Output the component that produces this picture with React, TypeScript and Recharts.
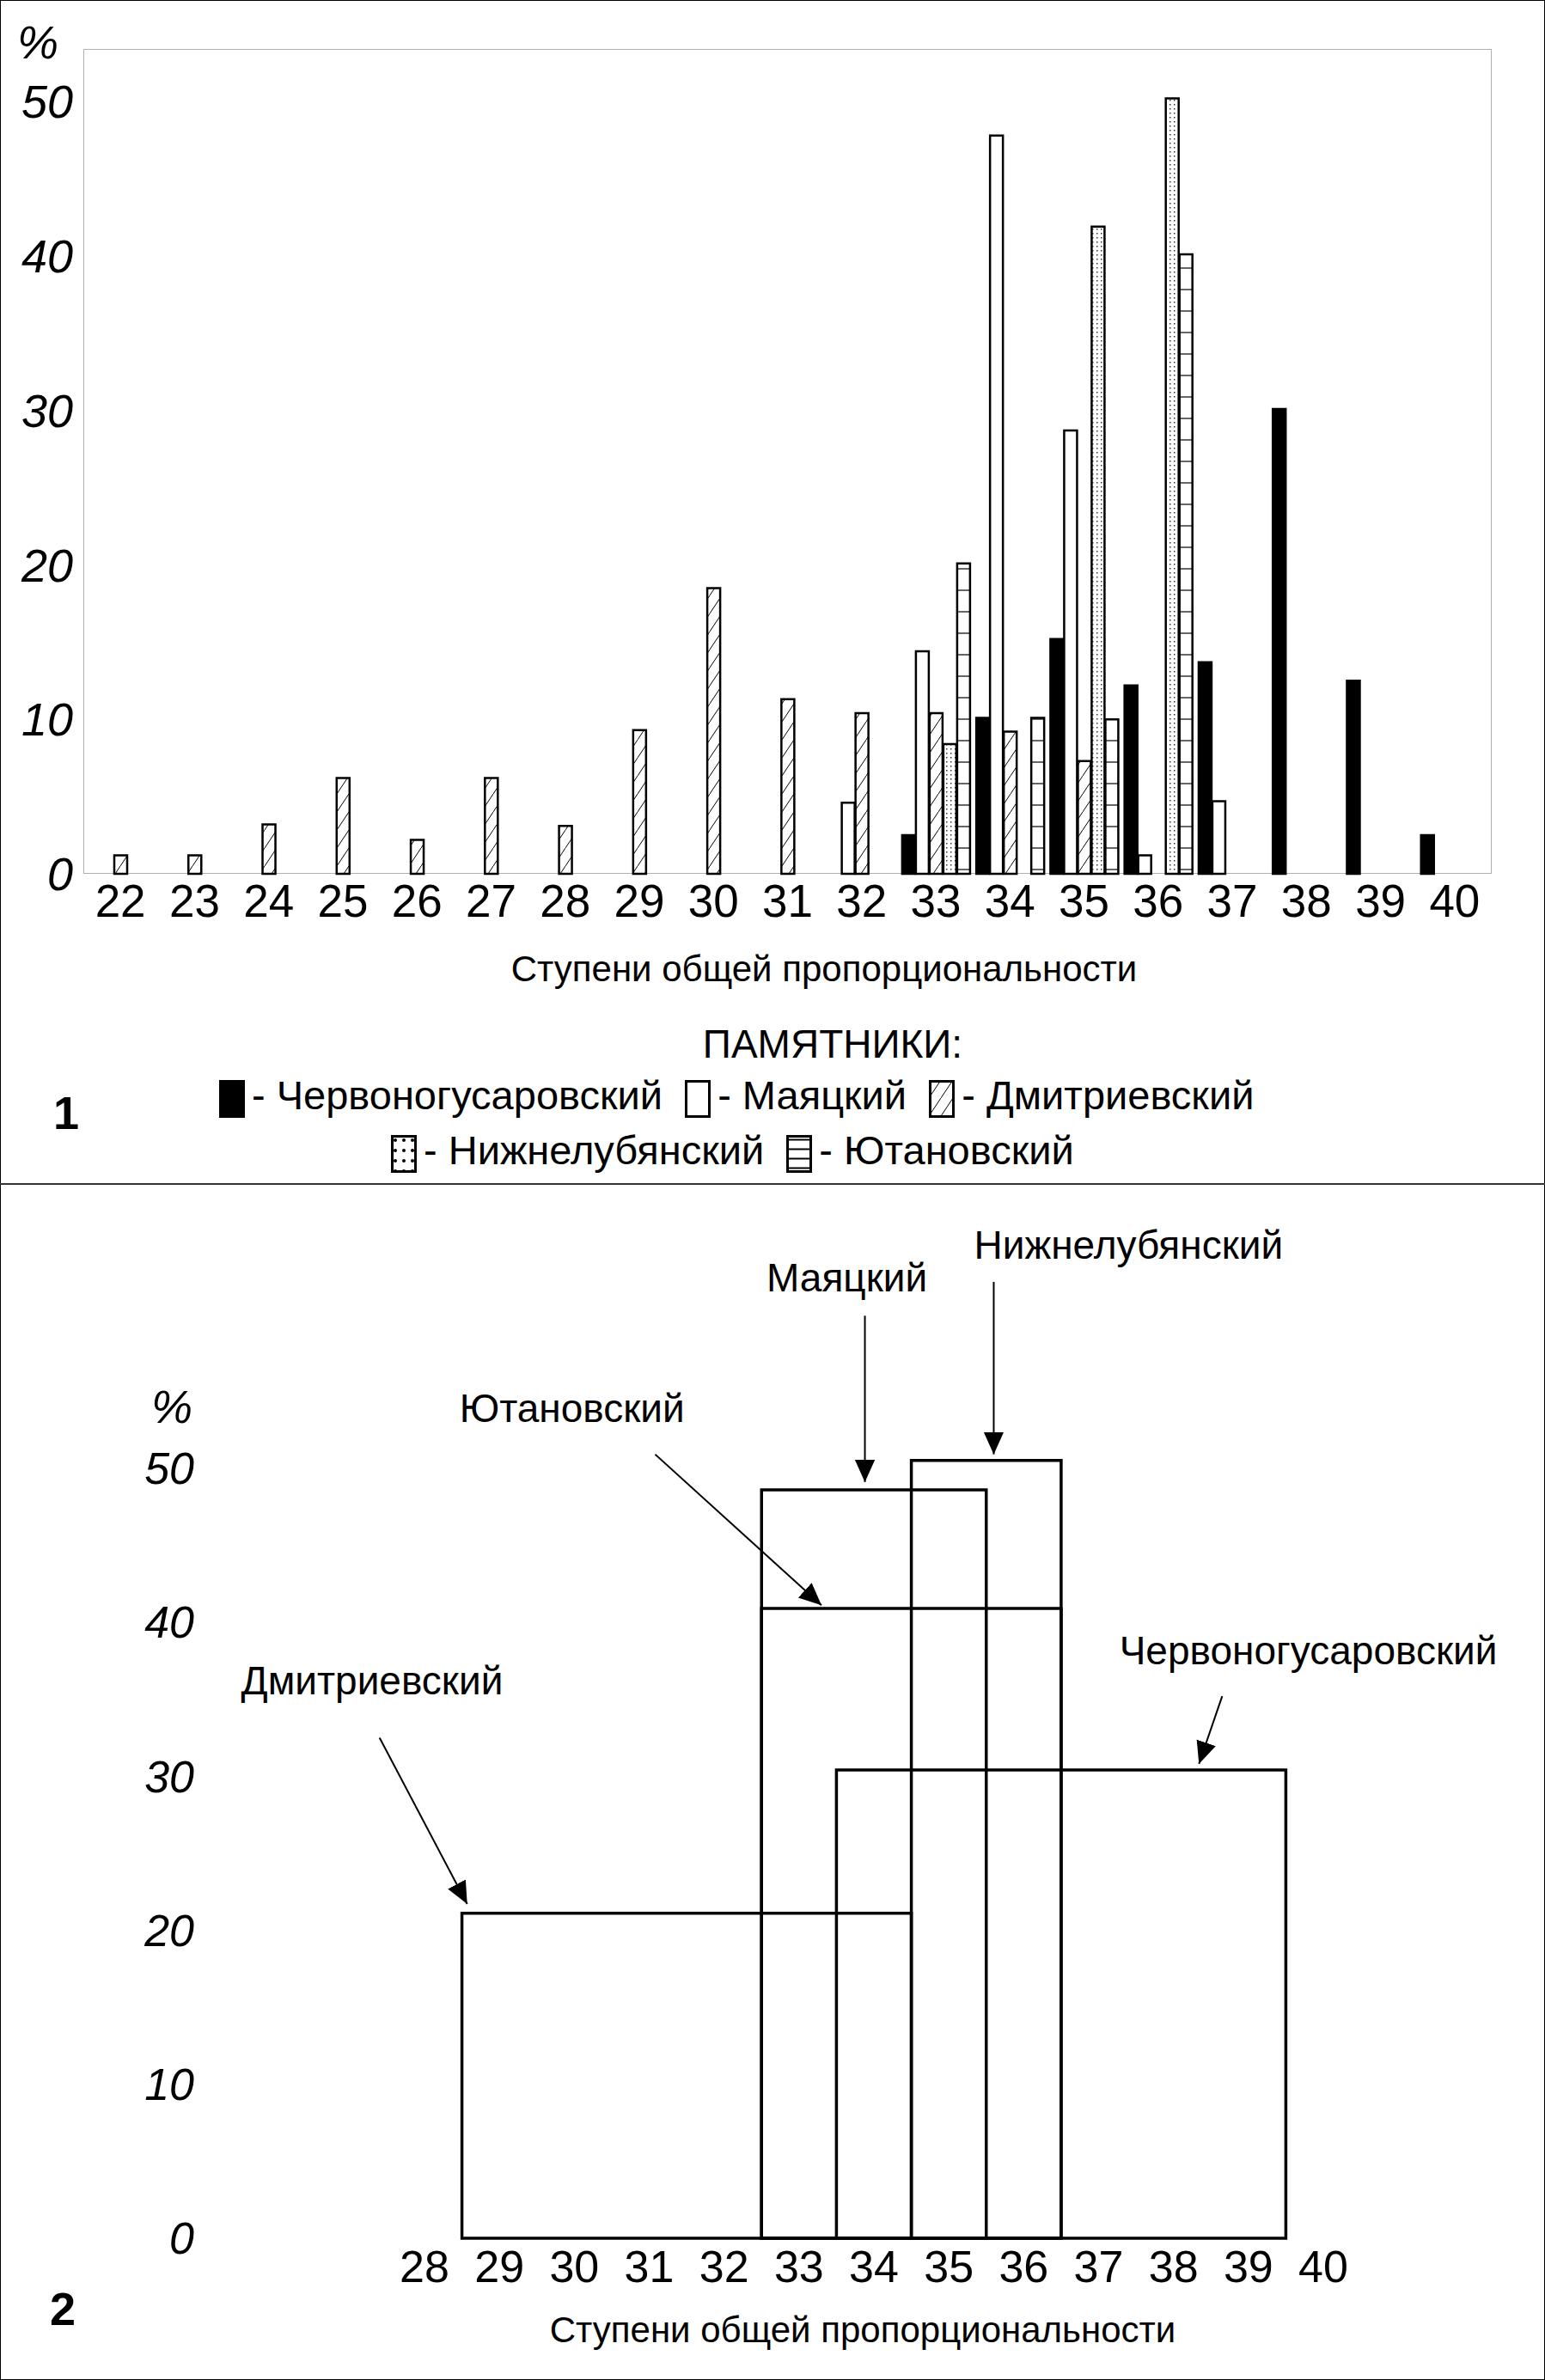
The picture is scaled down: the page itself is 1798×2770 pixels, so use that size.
import React from 'react';
import { BarChart, Bar, XAxis, YAxis, ComposedChart, Line, ReferenceArea, ReferenceLine, ReferenceDot } from 'recharts';

const steps = ['22','23','24','25','26','27','28','29','30','31','32','33','34','35','36','37','38','39','40'];
const chervonogusarovsky = [null,null,null,null,null,null,null,null,null,null,null,2.5,10.1,15.2,12.2,13.7,30.1,12.5,2.5];
const mayatsky = [null,null,null,null,null,null,null,null,null,null,4.6,14.4,47.8,28.7,1.2,4.7,null,null,null];
const dmitrievsky = [1.2,1.2,3.2,6.2,2.2,6.2,3.1,9.3,18.5,11.3,10.4,10.4,9.2,7.3,null,null,null,null,null];
const nizhnelubyansky = [null,null,null,null,null,null,null,null,null,null,null,8.4,null,41.9,50.2,null,null,null,null];
const yutanovsky = [null,null,null,null,null,null,null,null,null,null,null,20.1,10.1,10.0,40.1,null,null,null,null];

const yTicks = [0, 10, 20, 30, 40, 50];

// Panel 2: ranges of steps per monument and peak percent
const rangeNames = ['Дмитриевский', 'Маяцкий', 'Ютановский', 'Нижнелубянский', 'Червоногусаровский'];
const rangeFrom = [28.5, 32.5, 32.5, 34.5, 33.5];
const rangeTo = [34.5, 35.5, 36.5, 36.5, 39.5];
const rangePeak = [21.1, 48.6, 40.9, 50.5, 30.4];
// annotation: label position, arrow start, arrow end (data units)
const labelX = [27.3, 33.64, 29.97, 37.4, 39.8];
const labelY = [36.2, 62.4, 53.9, 64.5, 38.2];
const arrowFromX = [27.4, 33.88, 31.08, 35.6, 38.65];
const arrowFromY = [32.5, 59.9, 50.9, 62.1, 35.2];
const arrowToX = [28.57, 33.88, 33.3, 35.6, 38.34];
const arrowToY = [21.7, 49.1, 41.1, 50.9, 30.8];
const steps2 = [28, 29, 30, 31, 32, 33, 34, 35, 36, 37, 38, 39, 40];

const data1 = steps.map((s, i) => ({
  s,
  ch: chervonogusarovsky[i],
  ma: mayatsky[i],
  dm: dmitrievsky[i],
  ni: nizhnelubyansky[i],
  yu: yutanovsky[i],
}));
const data2 = [{ x: 28, y: 0 }, { x: 40, y: 0 }];

const FONT = "'Liberation Sans', Arial, sans-serif";

const Swatch = ({ fill }: { fill: string }) => (
  <svg width={30} height={44} style={{ verticalAlign: 'middle', marginRight: 8 }}>
    <rect x={1.5} y={1.5} width={27} height={41} fill={fill} stroke="#000" strokeWidth={3} />
  </svg>
);

export default function App() {
  const bs = { stroke: '#000', strokeWidth: 2.5, isAnimationActive: false, barSize: 15 } as any;
  return (
    <div style={{ position: 'absolute', left: 0, top: 0, width: 1798, height: 2770, background: '#fff', fontFamily: FONT }}>
      <svg width={0} height={0} style={{ position: 'absolute' }}>
        <defs>
          <pattern id="hatch" width={14} height={21} patternUnits="userSpaceOnUse">
            <rect width={14} height={21} fill="#fff" />
            <line x1={0} y1={21} x2={14} y2={0} stroke="#000" strokeWidth={1} />
          </pattern>
          <pattern id="dots" width={5} height={5} patternUnits="userSpaceOnUse">
            <rect width={5} height={5} fill="#fff" />
            <rect x={1} y={1} width={1.5} height={1.5} fill="#333" />
          </pattern>
          <pattern id="hlines" width={20} height={25} patternUnits="userSpaceOnUse">
            <rect width={20} height={25} fill="#fff" />
            <line x1={0} y1={12} x2={20} y2={12} stroke="#000" strokeWidth={1.2} />
          </pattern>
          <pattern id="ldots" width={10} height={12} patternUnits="userSpaceOnUse">
            <rect width={10} height={12} fill="#fff" />
            <circle cx={5} cy={6} r={2} fill="#000" />
          </pattern>
          <pattern id="lhlines" width={26} height={11} patternUnits="userSpaceOnUse">
            <rect width={26} height={11} fill="#fff" />
            <line x1={0} y1={5.5} x2={26} y2={5.5} stroke="#000" strokeWidth={2} />
          </pattern>
          <marker id="arrow2" viewBox="0 0 10 10" refX={10} refY={5} markerWidth={26} markerHeight={26} markerUnits="userSpaceOnUse" orient="auto">
            <path d="M0,0.5 L10,5 L0,9.5 z" fill="#000" />
          </marker>
        </defs>
      </svg>

      {/* outer frame and separator */}
      <div style={{ position: 'absolute', left: 0, top: 0, width: 1796, height: 2768, border: '1px solid #000' }} />
      <div style={{ position: 'absolute', left: 0, top: 1377, width: 1798, height: 0, borderTop: '2px solid #333' }} />

      {/* Panel 1 */}
      <div style={{ position: 'absolute', left: 97, top: 57, width: 1639, height: 960, border: '1px solid #a9b3b3', boxSizing: 'border-box' }} />
      <div style={{ position: 'absolute', left: 0, top: 0 }}>
        <BarChart width={1798} height={1100} data={data1} margin={{ top: 57, right: 62, bottom: 23, left: 7 }} barGap={1} barCategoryGap={6}>
          <XAxis dataKey="s" axisLine={false} tickLine={false} height={60} interval={0}
            tick={{ fontSize: 53, fill: '#000', fontFamily: FONT }} tickMargin={6} />
          <YAxis domain={[0, 53.4]} ticks={yTicks} axisLine={false} tickLine={false} width={90}
            tick={{ fontSize: 54, fill: '#000', fontStyle: 'italic', fontFamily: FONT }} tickMargin={6} />
          <Bar dataKey="ch" fill="#000" {...bs} />
          <Bar dataKey="ma" fill="#fff" {...bs} />
          <Bar dataKey="dm" fill="url(#hatch)" {...bs} />
          <Bar dataKey="ni" fill="url(#dots)" {...bs} />
          <Bar dataKey="yu" fill="url(#hlines)" {...bs} />
        </BarChart>
      </div>
      <div style={{ position: 'absolute', left: 20, top: 18, fontSize: 54, fontStyle: 'italic' }}>%</div>
      <div style={{ position: 'absolute', left: 0, width: 1798, top: 1104, textAlign: 'center', fontSize: 42, paddingLeft: 120, boxSizing: 'border-box' }}>
        Ступени общей пропорциональности
      </div>
      <div style={{ position: 'absolute', left: 0, width: 1798, top: 1188, textAlign: 'center', fontSize: 46, paddingLeft: 140, boxSizing: 'border-box' }}>
        ПАМЯТНИКИ:
      </div>
      <div style={{ position: 'absolute', left: 255, top: 1247, fontSize: 47, whiteSpace: 'nowrap' }}>
        <Swatch fill="#000" />- Червоногусаровский&nbsp;&nbsp;<Swatch fill="#fff" />- Маяцкий&nbsp;&nbsp;<Swatch fill="url(#hatch)" />- Дмитриевский
      </div>
      <div style={{ position: 'absolute', left: 455, top: 1311, fontSize: 47, whiteSpace: 'nowrap' }}>
        <Swatch fill="url(#ldots)" />- Нижнелубянский&nbsp;&nbsp;<Swatch fill="url(#lhlines)" />- Ютановский
      </div>
      <div style={{ position: 'absolute', left: 62, top: 1264, fontSize: 54, fontWeight: 'bold' }}>1</div>

      {/* Panel 2 */}
      <div style={{ position: 'absolute', left: 0, top: 1380 }}>
        <ComposedChart width={1798} height={1390} data={data2} margin={{ top: 42, right: 258, bottom: 115, left: 180 }}>
          <XAxis dataKey="x" type="number" domain={[28, 40]} ticks={steps2} interval={0} axisLine={false} tickLine={false} height={50}
            tick={{ fontSize: 52, fill: '#000', fontFamily: FONT }} tickMargin={8} allowDataOverflow />
          <YAxis type="number" domain={[0, 66]} ticks={yTicks} axisLine={false} tickLine={false} width={314} allowDataOverflow
            tick={{ fontSize: 52, fill: '#000', fontStyle: 'italic', fontFamily: FONT }} tickMargin={262} />
          <Line dataKey="y" stroke="none" dot={false} isAnimationActive={false} />
          {rangeNames.map((n, i) => (
            <ReferenceArea key={'r' + n} x1={rangeFrom[i]} x2={rangeTo[i]} y1={0} y2={rangePeak[i]}
              fill="none" fillOpacity={0} stroke="#000" strokeWidth={3.5} strokeOpacity={1} ifOverflow="visible" />
          ))}
          {rangeNames.map((n, i) => (
            <ReferenceLine key={'a' + n} segment={[{ x: arrowFromX[i], y: arrowFromY[i] }, { x: arrowToX[i], y: arrowToY[i] }]}
              stroke="#000" strokeWidth={2} markerEnd="url(#arrow2)" ifOverflow="visible" />
          ))}
          {rangeNames.map((n, i) => (
            <ReferenceDot key={'l' + n} x={labelX[i]} y={labelY[i]} r={0} ifOverflow="visible"
              label={{ value: n, position: 'center', fontSize: 46, fill: '#000', fontFamily: FONT }} />
          ))}
        </ComposedChart>
      </div>
      <div style={{ position: 'absolute', left: 176, top: 1606, fontSize: 54, fontStyle: 'italic' }}>%</div>
      <div style={{ position: 'absolute', left: 0, width: 1798, top: 2688, textAlign: 'center', fontSize: 42, paddingLeft: 210, boxSizing: 'border-box' }}>
        Ступени общей пропорциональности
      </div>
      <div style={{ position: 'absolute', left: 58, top: 2656, fontSize: 54, fontWeight: 'bold' }}>2</div>
    </div>
  );
}
